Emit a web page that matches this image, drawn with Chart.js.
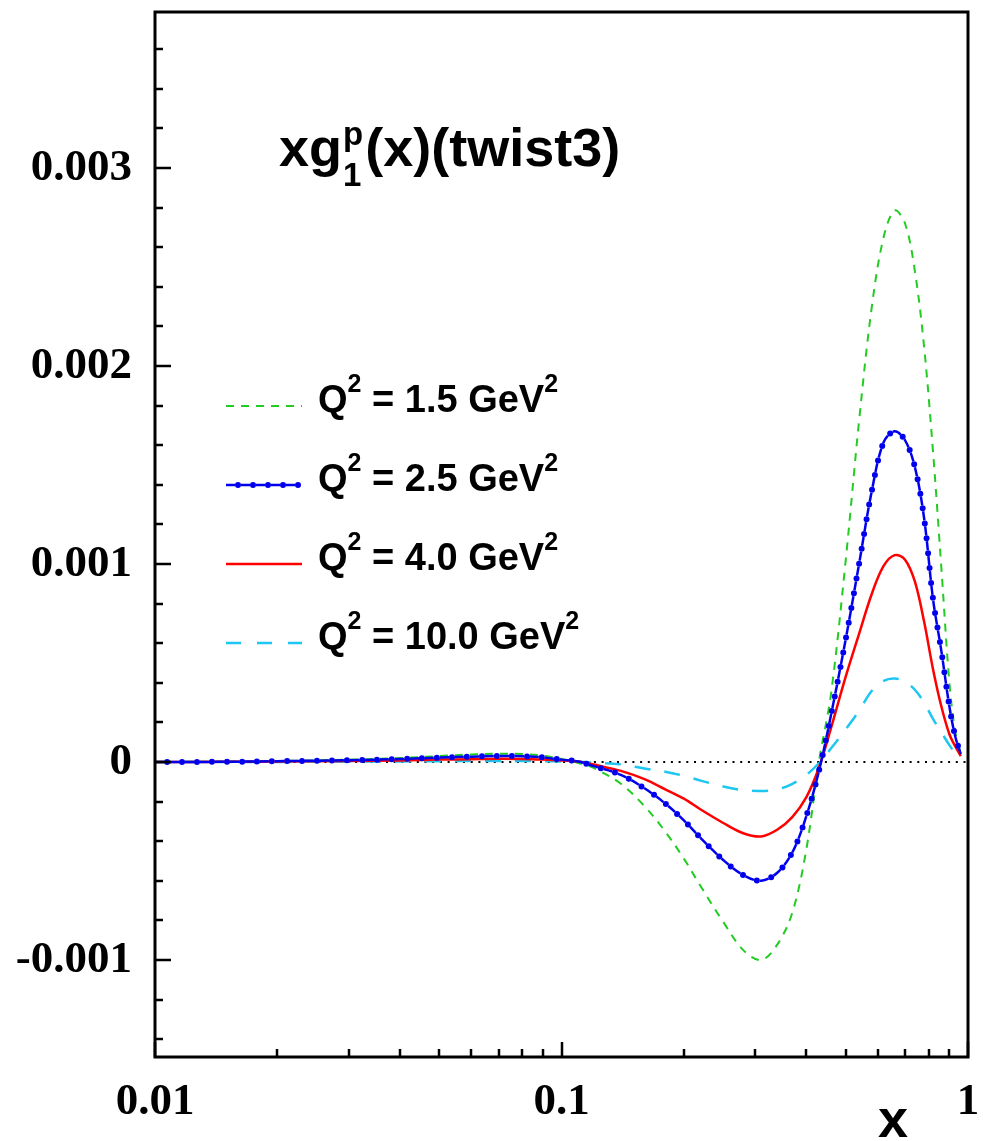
<!DOCTYPE html>
<html>
<head>
<meta charset="utf-8">
<script src="https://cdn.jsdelivr.net/npm/chart.js@4.4.1/dist/chart.umd.min.js"></script>
<style>
  html, body { margin: 0; padding: 0; background: #fff; }
  canvas { display: block; }
</style>
</head>
<body>
<canvas id="g1Chart" width="983" height="1141"></canvas>
<script>
// x g1^p(x) twist-3 part, four Q^2 values
const xValues = [0.01, 0.015, 0.02, 0.03, 0.04, 0.05, 0.06, 0.07, 0.08, 0.09,
                 0.1, 0.11, 0.12, 0.14, 0.16, 0.18, 0.2, 0.22, 0.25, 0.28,
                 0.31, 0.34, 0.37, 0.40, 0.43, 0.46, 0.50, 0.54, 0.58, 0.62,
                 0.66, 0.70, 0.74, 0.78, 0.82, 0.86, 0.90, 0.93, 0.96];

const q2_15 = [0, 0.000002, 0.000005, 0.000012, 0.00002, 0.00003, 0.000038, 0.000042, 0.00004, 0.000032,
               0.000015, -0.000005, -0.00003, -0.00011, -0.000223, -0.000352, -0.000488, -0.000628, -0.000808, -0.00095,
               -0.001, -0.00092, -0.000758, -0.000444, 0.000005, 0.00034, 0.001015, 0.00173, 0.0023, 0.00265,
               0.002785, 0.00272, 0.00248, 0.002095, 0.00157, 0.00098, 0.0004, 0.000155, 0.00004];

const q2_25 = [0, 0.000001, 0.000004, 0.000009, 0.000015, 0.000022, 0.000027, 0.00003, 0.000029, 0.000023,
               0.000012, 0.000002, -0.000021, -0.000065, -0.000133, -0.00021, -0.000295, -0.000384, -0.000495, -0.000571,
               -0.0006, -0.000558, -0.000455, -0.000275, -0.000044, 0.000235, 0.000618, 0.001005, 0.00137, 0.001615,
               0.00167, 0.001625, 0.00149, 0.00123, 0.000825, 0.00056, 0.00028, 0.00013, 0.00004];

const q2_40 = [0, 0.000001, 0.000002, 0.000005, 0.000008, 0.000012, 0.000014, 0.000016, 0.000015, 0.000012,
               0.000008, 0.000002, -0.000013, -0.000045, -0.000087, -0.000138, -0.000185, -0.00024, -0.000308, -0.00036,
               -0.000376, -0.000341, -0.000277, -0.000179, -0.000028, 0.00017, 0.00043, 0.00065, 0.00085, 0.00099,
               0.001045, 0.001022, 0.000912, 0.000708, 0.00047, 0.00028, 0.00014, 0.00008, 0.00003];

const q2_100 = [0, 0, 0, 0.000002, 0.000003, 0.000004, 0.000005, 0.000005, 0.000005, 0.000004,
                0.000003, 0.000001, -0.000003, -0.000012, -0.000033, -0.000049, -0.00007, -0.000094, -0.000124, -0.000142,
                -0.000146, -0.000138, -0.00011, -0.000066, -0.000005, 0.000068, 0.000165, 0.00026, 0.00036, 0.00041,
                0.000422, 0.000405, 0.000365, 0.0003, 0.000218, 0.00015, 0.000085, 0.000045, 0.00002];

const zeroX = [0.01, 1];
const zeroY = [0, 0];

const seriesLabels = ['1.5', '2.5', '4.0', '10.0'];

const xTicks = [0.01, 0.1, 1];
const xTickLabels = ['0.01', '0.1', '1'];
const yTicks = [-0.001, 0, 0.001, 0.002, 0.003];
const yTickLabels = ['-0.001', '0', '0.001', '0.002', '0.003'];

const GREEN = '#22cc22';
const BLUE = '#0000ee';
const RED = '#ff0000';
const CYAN = '#1ec6f2';

const pts = ys => xValues.map((x, i) => ({ x: x, y: ys[i] }));

function lineSet(ys, color, width, dash, order, extra) {
    return Object.assign({
        data: pts(ys),
        borderColor: color,
        borderWidth: width,
        borderDash: dash,
        pointRadius: 0,
        showLine: true,
        fill: false,
        tension: 0.35,
        order: order
    }, extra || {});
}

// legend samples, title and the inner tick marks of the frame
const decorPlugin = {
    id: 'decor',
    afterDraw(chart) {
        const { ctx, chartArea: a, scales } = chart;
        const xs = scales.x, ys = scales.y;
        ctx.save();
        ctx.strokeStyle = '#000';
        ctx.lineWidth = 2.5;
        ctx.beginPath();
        for (let i = -7; i <= 18; i++) {
            const v = i * 0.0002;
            const y = Math.round(ys.getPixelForValue(v));
            const len = (i % 5 === 0) ? 16 : 8;
            ctx.moveTo(a.left, y);
            ctx.lineTo(a.left + len, y);
        }
        [0.01, 0.1].forEach(dec => {
            for (let m = 1; m <= 10; m++) {
                const x = Math.round(xs.getPixelForValue(dec * m));
                const len = (m === 1 || m === 10) ? 15 : 8;
                ctx.moveTo(x, a.bottom);
                ctx.lineTo(x, a.bottom - len);
            }
        });
        ctx.stroke();

        ctx.lineWidth = 3;
        ctx.strokeRect(a.left, a.top, a.right - a.left, a.bottom - a.top);

        // title
        ctx.fillStyle = '#000';
        ctx.textBaseline = 'alphabetic';
        ctx.font = 'bold 54px "Liberation Sans", Arial, sans-serif';
        let tx = 279;
        ctx.fillText('xg', tx, 166);
        tx += ctx.measureText('xg').width + 1;
        ctx.font = 'bold 33px "Liberation Sans", Arial, sans-serif';
        ctx.fillText('p', tx, 145);
        ctx.fillText('1', tx, 186);
        tx += ctx.measureText('p').width + 2;
        ctx.font = 'bold 54px "Liberation Sans", Arial, sans-serif';
        ctx.fillText('(x)(twist3)', tx, 166);

        // x axis label
        ctx.font = 'bold 54px "Liberation Sans", Arial, sans-serif';
        ctx.fillText('x', 878, 1137);

        // legend
        const lineY = [406, 485, 564, 643];
        const styles = [
            { c: GREEN, w: 2, d: [8, 7] },
            { c: BLUE, w: 2.5, d: [9, 6], dots: true },
            { c: RED, w: 2.5, d: [] },
            { c: CYAN, w: 2.5, d: [15, 16] }
        ];
        seriesLabels.forEach((lab, i) => {
            const s = styles[i], y = lineY[i];
            ctx.strokeStyle = s.c;
            ctx.lineWidth = s.w;
            ctx.setLineDash(s.d);
            ctx.lineDashOffset = 0;
            ctx.beginPath();
            ctx.moveTo(226, y);
            ctx.lineTo(i === 1 ? 301 : 302, y);
            ctx.stroke();
            if (s.dots) {
                ctx.lineWidth = 6;
                ctx.lineCap = 'round';
                ctx.setLineDash([0, 15]);
                ctx.lineDashOffset = 3;
                ctx.beginPath();
                ctx.moveTo(226, y);
                ctx.lineTo(301, y);
                ctx.stroke();
                ctx.lineCap = 'butt';
            }
            ctx.setLineDash([]);
            ctx.fillStyle = '#000';
            let lx = 318;
            const by = y + 6;
            ctx.font = 'bold 38px "Liberation Sans", Arial, sans-serif';
            ctx.fillText('Q', lx, by);
            lx += ctx.measureText('Q').width;
            ctx.font = 'bold 25px "Liberation Sans", Arial, sans-serif';
            ctx.fillText('2', lx, by - 20);
            lx += ctx.measureText('2').width;
            ctx.font = 'bold 38px "Liberation Sans", Arial, sans-serif';
            const mid = ' = ' + lab + ' GeV';
            ctx.fillText(mid, lx, by);
            lx += ctx.measureText(mid).width;
            ctx.font = 'bold 25px "Liberation Sans", Arial, sans-serif';
            ctx.fillText('2', lx, by - 20);
        });
        ctx.restore();
    }
};

const ctxG1 = document.getElementById('g1Chart').getContext('2d');
new Chart(ctxG1, {
    type: 'scatter',
    data: {
        datasets: [
            {
                data: zeroX.map((x, i) => ({ x: x, y: zeroY[i] })),
                borderColor: '#000',
                borderWidth: 2,
                borderDash: [2, 5.7],
                pointRadius: 0,
                showLine: true,
                order: 10
            },
            lineSet(q2_100, CYAN, 2.5, [16, 14], 5),
            lineSet(q2_15, GREEN, 2, [8, 7], 4),
            lineSet(q2_40, RED, 2.5, [], 3),
            lineSet(q2_25, BLUE, 2.5, [9, 6], 2),
            // dots of the blue dash-dot style, same points
            lineSet(q2_25, BLUE, 6, [0, 15], 1, { borderCapStyle: 'round', borderDashOffset: 3 })
        ]
    },
    options: {
        responsive: false,
        devicePixelRatio: 1,
        animation: false,
        layout: { padding: { top: 12, right: 15, left: 0, bottom: 0 } },
        scales: {
            x: {
                type: 'logarithmic',
                min: 0.01,
                max: 1,
                afterBuildTicks: s => { s.ticks = xTicks.map(v => ({ value: v })); },
                afterFit: s => { s.height = 84; s.paddingLeft = 0; s.paddingRight = 0; },
                grid: { display: false, drawTicks: false },
                border: { display: false },
                ticks: {
                    autoSkip: false,
                    maxRotation: 0,
                    padding: 18,
                    color: '#000',
                    font: { family: 'Liberation Serif', size: 45, weight: 'bold' },
                    callback: (v, i) => xTickLabels[i]
                }
            },
            y: {
                type: 'linear',
                min: -0.00149,
                max: 0.003788,
                afterBuildTicks: s => { s.ticks = yTicks.map(v => ({ value: v })); },
                afterFit: s => { s.width = 155; s.paddingTop = 0; s.paddingBottom = 0; },
                grid: { display: false, drawTicks: false },
                border: { display: false },
                ticks: {
                    padding: 23,
                    color: '#000',
                    font: { family: 'Liberation Serif', size: 45, weight: 'bold' },
                    callback: (v, i) => yTickLabels[i]
                }
            }
        },
        plugins: {
            legend: { display: false },
            tooltip: { enabled: false }
        }
    },
    plugins: [decorPlugin]
});
</script>
</body>
</html>
